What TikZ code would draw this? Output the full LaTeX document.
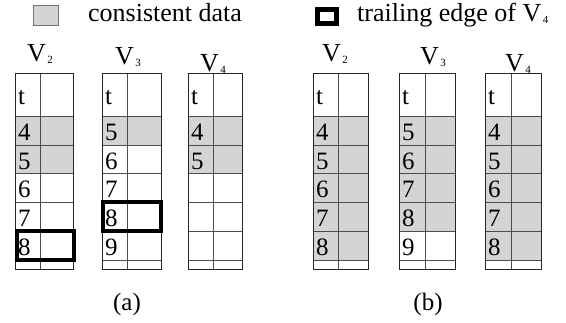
\documentclass[tikz,border=0pt]{standalone}
\usepackage{fontspec}
\setmainfont{Liberation Serif}
\newcommand{\sub}[1]{\kern1.5pt\raisebox{-2.5pt}{\fontsize{11}{11}\selectfont #1}}
\tikzset{
  x=1pt, y=-1pt,
  grid/.style={draw=black!70, line width=0.9pt},
  frame/.style={draw=black!85, line width=1pt},
  consistent/.style={fill=black!17},
  trailing/.style={draw=black, line width=4pt},
  cellnum/.style={anchor=base west, inner sep=0pt, font=\fontsize{25}{25}\selectfont},
  head/.style={anchor=base west, inner sep=0pt, font=\fontsize{26}{26}\selectfont},
  caption/.style={anchor=base, inner sep=0pt, font=\fontsize{25}{25}\selectfont},
  legendtext/.style={anchor=base west, inner sep=0pt, font=\fontsize{26}{26}\selectfont},
}
% grid of one table: #1 left, #2 divider, #3 right
\newcommand{\tablegrid}[3]{%
  \foreach \yy in {116,145,173,202,231,260}
    \draw[grid] (#1,\yy) -- (#3,\yy);
  \draw[grid] (#2,73) -- (#2,269);
  \draw[frame] (#1,73) rectangle (#3,269);
}
\begin{document}
\begin{tikzpicture}
\useasboundingbox (0,0) rectangle (566,322);

% legend
\node[draw=black!55, line width=1pt, fill=black!17, minimum width=25pt,
      minimum height=20pt, inner sep=0pt] (keygray) at (45.5,15) {};
\node[legendtext] (keygraytext) at (88,21) {consistent data};
\node[draw=black, line width=5pt, minimum width=19pt, minimum height=14pt,
      inner sep=0pt] (keybold) at (327,16) {};
\node[legendtext] (keyboldtext) at (357,21) {trailing edge of V\sub{4}};

% ---------- (a) ----------
\fill[consistent] (15,116) rectangle (73,173);
\fill[consistent] (102,116) rectangle (161,145);
\fill[consistent] (188,116) rectangle (242,173);
\tablegrid{15}{40.5}{73}
\tablegrid{102}{127}{161}
\tablegrid{188}{213}{242}

\node[head] (a2h) at (27,61) {V\sub{2}};
\node[head] (a3h) at (115,64) {V\sub{3}};
\node[head] (a4h) at (200,71) {V\sub{4}};

\node[cellnum] (a2t) at (18,104) {t};
\node[cellnum] (a2r1) at (18,140) {4};
\node[cellnum] (a2r2) at (18,169) {5};
\node[cellnum] (a2r3) at (18,197) {6};
\node[cellnum] (a2r4) at (18,226) {7};
\node[cellnum] (a2r5) at (18,255) {8};

\node[cellnum] (a3t) at (105,104) {t};
\node[cellnum] (a3r1) at (105,140) {5};
\node[cellnum] (a3r2) at (105,169) {6};
\node[cellnum] (a3r3) at (105,197) {7};
\node[cellnum] (a3r4) at (105,226) {8};
\node[cellnum] (a3r5) at (105,255) {9};

\node[cellnum] (a4t) at (191,104) {t};
\node[cellnum] (a4r1) at (191,140) {4};
\node[cellnum] (a4r2) at (191,169) {5};

\draw[trailing] (16.5,231) rectangle (74,260);
\draw[trailing] (102.5,202) rectangle (160.5,231);

\node[caption] (capa) at (127,310) {(a)};

% ---------- (b) ----------
\fill[consistent] (313,116) rectangle (368,260);
\fill[consistent] (399,116) rectangle (455,231);
\fill[consistent] (485,116) rectangle (541,260);
\tablegrid{313}{338}{368}
\tablegrid{399}{425}{455}
\tablegrid{485}{511}{541}

\node[head] (b2h) at (322,61) {V\sub{2}};
\node[head] (b3h) at (420,64) {V\sub{3}};
\node[head] (b4h) at (505,71) {V\sub{4}};

\node[cellnum] (b2t) at (316,104) {t};
\node[cellnum] (b2r1) at (316,140) {4};
\node[cellnum] (b2r2) at (316,169) {5};
\node[cellnum] (b2r3) at (316,197) {6};
\node[cellnum] (b2r4) at (316,226) {7};
\node[cellnum] (b2r5) at (316,255) {8};

\node[cellnum] (b3t) at (402,104) {t};
\node[cellnum] (b3r1) at (402,140) {5};
\node[cellnum] (b3r2) at (402,169) {6};
\node[cellnum] (b3r3) at (402,197) {7};
\node[cellnum] (b3r4) at (402,226) {8};
\node[cellnum] (b3r5) at (402,255) {9};

\node[cellnum] (b4t) at (488,104) {t};
\node[cellnum] (b4r1) at (488,140) {4};
\node[cellnum] (b4r2) at (488,169) {5};
\node[cellnum] (b4r3) at (488,197) {6};
\node[cellnum] (b4r4) at (488,226) {7};
\node[cellnum] (b4r5) at (488,255) {8};

\node[caption] (capb) at (428,310) {(b)};
\end{tikzpicture}
\end{document}
